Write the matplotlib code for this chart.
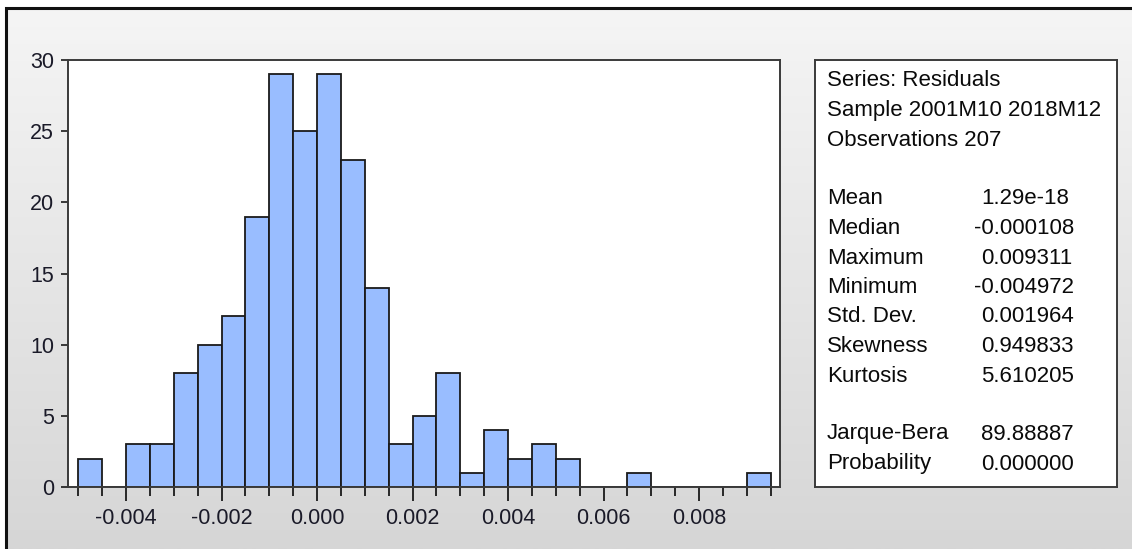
import numpy as np
import matplotlib
matplotlib.use("Agg")
import matplotlib.pyplot as plt
from matplotlib.lines import Line2D

plt.rcParams['font.family'] = ['Liberation Sans', 'DejaVu Sans']

# histogram of residuals, bins of 0.0005 starting at -0.005
first_edge = -0.005
bin_width = 0.0005
counts = [2, 0, 3, 3, 8, 10, 12, 19, 29, 25, 29, 23, 14, 3, 5, 8, 1, 4, 2, 3, 2,
          0, 0, 1, 0, 0, 0, 0, 1]
x_ticks = [-0.004, -0.002, 0.000, 0.002, 0.004, 0.006, 0.008]
y_ticks = [0, 5, 10, 15, 20, 25, 30]

header = ["Series: Residuals", "Sample 2001M10 2018M12", "Observations 207"]
stat_names = ["Mean", "Median", "Maximum", "Minimum", "Std. Dev.", "Skewness", "Kurtosis"]
stat_values = ["1.29e-18", "-0.000108", "0.009311", "-0.004972", "0.001964", "0.949833", "5.610205"]
test_names = ["Jarque-Bera", "Probability"]
test_values = ["89.88887", "0.000000"]

W, H = 1132, 549
fig = plt.figure(figsize=(W / 100, H / 100), dpi=100)
fig.patch.set_facecolor("white")


def fx(px):
    return px / W


def fy(py):
    return 1 - py / H


# grey gradient background inside the frame
bg = fig.add_axes([fx(6), 0, 1 - fx(6), fy(8)])
grad = np.linspace(0, 1, 256).reshape(-1, 1)
bg.imshow(grad, aspect="auto", cmap=matplotlib.colors.LinearSegmentedColormap.from_list(
    "g", ["#f5f5f5", "#d6d6d6"]), extent=[0, 1, 0, 1], origin="upper")
bg.set_xlim(0, 1)
bg.set_ylim(0, 1)
bg.axis("off")
# frame: only top and left edges are inside the picture
fig.add_artist(Line2D([fx(6), fx(6), 1.0], [0.0, fy(8), fy(8)], transform=fig.transFigure,
                      color="#111111", linewidth=2.2, solid_joinstyle="miter"))

# histogram axes
ax = fig.add_axes([fx(68), fy(487), fx(780 - 68), (487 - 60) / H])
ax.set_facecolor("white")
lefts = [first_edge + i * bin_width for i in range(len(counts))]
ax.bar(lefts, counts, width=bin_width, align="edge", color="#99bdff",
       edgecolor="#1a1a1a", linewidth=1.3, zorder=2)
ax.set_xlim(-0.005215, 0.009696)
ax.set_ylim(0, 30)
ax.set_xticks(x_ticks)
ax.set_xticklabels([f"{v:.3f}" for v in x_ticks])
minor = [first_edge + i * bin_width for i in range(len(counts) + 1)]
ax.set_xticks([m for m in minor if min(abs(m - t) for t in x_ticks) > 1e-9], minor=True)
ax.set_yticks(y_ticks)
ax.tick_params(axis="x", which="major", direction="out", length=10, width=1.3,
               labelsize=15.5, pad=5, colors="#1a1a1a", labelcolor="#1a1a28")
ax.tick_params(axis="x", which="minor", direction="out", length=6.5, width=1.3,
               colors="#1a1a1a")
ax.tick_params(axis="y", direction="out", length=5, width=1.2, labelsize=15.5,
               pad=5, colors="#1a1a1a", labelcolor="#1a1a28")
for s in ax.spines.values():
    s.set_color("#3a3a3a")
    s.set_linewidth(1.4)

# statistics box
box = fig.add_axes([fx(815), fy(487), fx(1117 - 815), (487 - 60) / H])
box.set_facecolor("white")
box.set_xticks([])
box.set_yticks([])
for s in box.spines.values():
    s.set_color("#3a3a3a")
    s.set_linewidth(1.4)

fs = 16
tx = fx(827)


def value_x(v):
    # digits line up, a leading minus hangs to the left
    return fx(974) if v.startswith("-") else fx(981)


for i, t in enumerate(header):
    fig.text(tx, fy(81 + i * 29.8), t, fontsize=fs, va="center", ha="left", color="#0a0a0a")
for i, (n, v) in enumerate(zip(stat_names, stat_values)):
    yy = fy(199 + i * 29.5)
    fig.text(tx, yy, n, fontsize=fs, va="center", ha="left", color="#0a0a0a")
    fig.text(value_x(v), yy, v, fontsize=fs, va="center", ha="left", color="#0a0a0a")
for i, (n, v) in enumerate(zip(test_names, test_values)):
    yy = fy(434 + i * 30)
    fig.text(tx, yy, n, fontsize=fs, va="center", ha="left", color="#0a0a0a")
    fig.text(value_x(v), yy, v, fontsize=fs, va="center", ha="left", color="#0a0a0a")

fig.savefig("out.png", dpi=100)
